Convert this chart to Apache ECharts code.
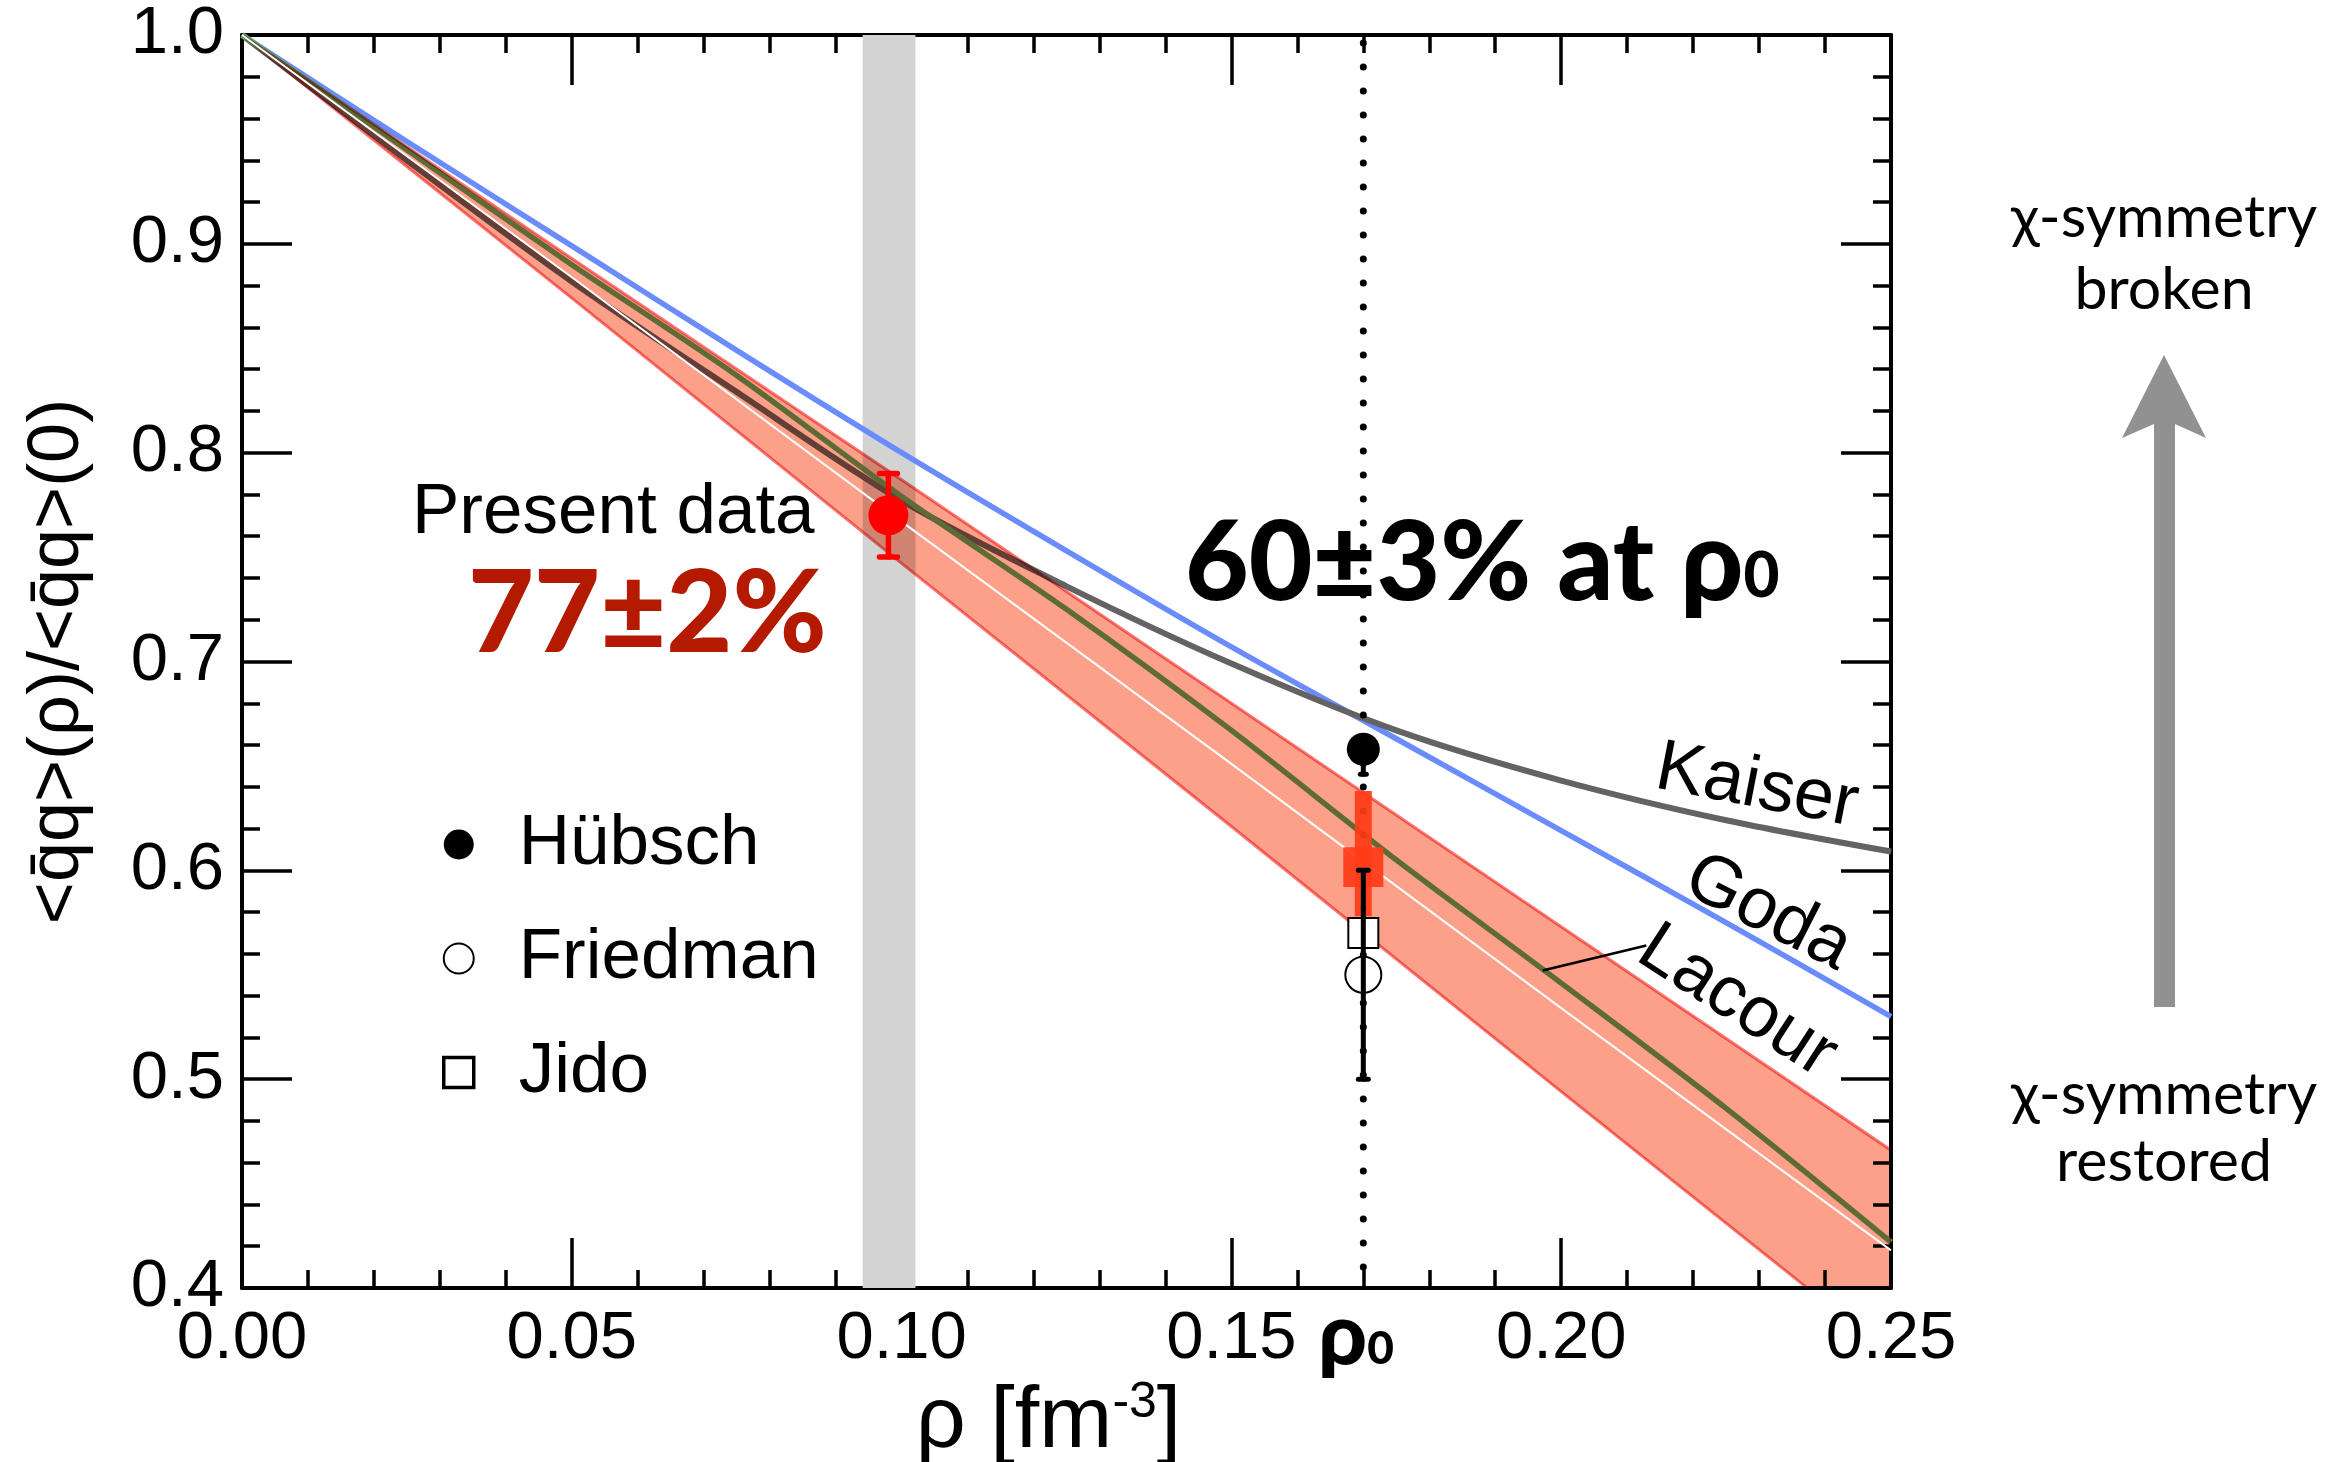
<!DOCTYPE html>
<html>
<head>
    <meta charset="UTF-8"/>
    <title>quark condensate vs density</title>
    <script src="https://cdn.jsdelivr.net/npm/echarts@6/dist/echarts.min.js"></script>
    <style>
        html, body { margin: 0; padding: 0; background: #fff; }
        #main { width: 2351px; height: 1462px; }
    </style>
</head>
<body>
<div id="main"></div>
<script>
    // axes
    var xRange = [0, 0.25];
    var yRange = [0.4, 1.0];

    // model curves, rho in fm^-3
    var rhoGrid = [0, 0.025, 0.05, 0.075, 0.10, 0.125, 0.15, 0.175, 0.20, 0.225, 0.25];
    var goda    = [1.000, 0.949, 0.899, 0.849, 0.800, 0.753, 0.707, 0.663, 0.619, 0.575, 0.530];
    var kaiser  = [1.000, 0.940, 0.882, 0.829, 0.777, 0.736, 0.699, 0.667, 0.643, 0.624, 0.609];
    var lacour  = [1.000, 0.945, 0.890, 0.837, 0.779, 0.725, 0.667, 0.605, 0.546, 0.486, 0.422];

    // linear band of the present result
    var bandRho  = [0, 0.05, 0.10, 0.15, 0.20, 0.25];
    var bandHigh = [1.000, 0.893, 0.787, 0.680, 0.573, 0.466];
    var bandLow  = [1.000, 0.874, 0.747, 0.621, 0.494, 0.368];
    var bandMid  = [1.000, 0.884, 0.767, 0.651, 0.534, 0.418];

    // data points
    var rho0 = 0.17;
    var exclRange = [0.0941, 0.1021];
    var present = [0.098, 0.770, 0.750, 0.790];      // rho, value, low, high
    var hubsch = [0.17, 0.658, 0.646, 0.658];
    var friedman = [0.17, 0.550, 0.500, 0.600];
    var jido = [0.17, 0.570];
    var extrap = [0.17, 0.578, 0.638, 0.592, 0.611];  // rho, stat low/high, syst low/high
    var leaderRho = [0.1972, 0.2129];
    var leaderVal = [0.552, 0.564];

    var sans = '"Liberation Sans", Arial, sans-serif';
    var gill = 'Lato, "Open Sans", sans-serif';

    function pairs(xs, ys) {
        return xs.map(function (x, i) { return [x, ys[i]]; });
    }

    function errorBar(name, row, color, width, capHalf, z) {
        return {
            type: 'custom', name: name, z: z, clip: true, silent: true,
            data: [[row[0], row[2], row[3]]],
            renderItem: function (params, api) {
                var x = api.value(0);
                var lo = api.coord([x, api.value(1)]);
                var hi = api.coord([x, api.value(2)]);
                var st = { stroke: color, lineWidth: width, lineCap: 'round' };
                return {
                    type: 'group', children: [
                        { type: 'line', shape: { x1: lo[0], y1: lo[1], x2: hi[0], y2: hi[1] }, style: st },
                        { type: 'line', shape: { x1: lo[0] - capHalf, y1: lo[1], x2: lo[0] + capHalf, y2: lo[1] }, style: st },
                        { type: 'line', shape: { x1: hi[0] - capHalf, y1: hi[1], x2: hi[0] + capHalf, y2: hi[1] }, style: st }
                    ]
                };
            }
        };
    }

    function valueAxis(pos, range, step, digits, showLabel, extra) {
        var ax = {
            type: 'value', position: pos, min: range[0], max: range[1], interval: step,
            axisLine: { show: true, onZero: false, lineStyle: { color: '#000', width: 4 } },
            axisTick: { show: true, inside: true, length: 50, lineStyle: { color: '#000', width: 3.5 } },
            minorTick: { show: true, splitNumber: 5, length: 18, lineStyle: { color: '#000', width: 3.5 } },
            splitLine: { show: false },
            minorSplitLine: { show: false },
            axisLabel: {
                show: showLabel, color: '#000', fontSize: 67, fontFamily: sans, margin: 18,
                formatter: function (v) { return v.toFixed(digits); }
            }
        };
        for (var k in extra) ax[k] = extra[k];
        return ax;
    }

    var chart = echarts.init(document.getElementById('main'));

    var option = {
        animation: false,
        backgroundColor: '#fff',
        grid: { left: 242, right: 460, top: 35, bottom: 174, containLabel: false, outerBoundsMode: 'none' },
        xAxis: [
            valueAxis('bottom', xRange, 0.05, 2, true, {
                name: '{a|ρ [fm}{s|-3}{a|]}', nameLocation: 'middle', nameGap: 78,
                nameTextStyle: {
                    padding: [0, 36, 0, 0],
                    rich: {
                        a: { fontSize: 88, fontFamily: sans, color: '#000' },
                        s: { fontSize: 50, fontFamily: sans, color: '#000', padding: [0, 0, 40, 0] }
                    }
                }
            }),
            valueAxis('top', xRange, 0.05, 2, false, {})
        ],
        yAxis: [
            valueAxis('left', yRange, 0.1, 1, true, {
                name: '<q\u0304q>(ρ)/<q\u0304q>(0)', nameLocation: 'middle', nameRotate: 90, nameGap: 148,
                nameTextStyle: { fontSize: 72, fontFamily: sans, color: '#000' }
            }),
            valueAxis('right', yRange, 0.1, 1, false, {})
        ],
        legend: {
            show: true, orient: 'vertical', left: 442, top: 809, padding: 0, selectedMode: false,
            itemWidth: 110, itemHeight: 30, itemGap: 43,
            textStyle: { fontSize: 71, lineHeight: 71, fontFamily: sans, color: '#000' },
            data: [
                { name: 'Hübsch', icon: 'circle' },
                { name: 'Friedman', icon: 'emptyCircle' },
                { name: 'Jido', icon: 'path://M0,0H10V10H0Z',
                  itemStyle: { color: '#fff', borderColor: '#000', borderWidth: 3.5 } }
            ]
        },
        series: [
            {   // grey window of the present measurement
                type: 'custom', name: 'window', z: 1, silent: true, clip: true,
                data: [[exclRange[0], exclRange[1]]],
                renderItem: function (params, api) {
                    var cs = params.coordSys;
                    var a = api.coord([api.value(0), yRange[1]]);
                    var b = api.coord([api.value(1), yRange[1]]);
                    return { type: 'rect', shape: { x: a[0], y: cs.y, width: b[0] - a[0], height: cs.height }, style: { fill: '#d3d3d3' } };
                }
            },
            { type: 'line', name: 'Goda', data: pairs(rhoGrid, goda), symbol: 'none', smooth: 0.3, z: 2,
              lineStyle: { color: '#6a8cff', width: 5.5 } },
            { type: 'line', name: 'Kaiser', data: pairs(rhoGrid, kaiser), symbol: 'none', smooth: 0.3, z: 2,
              lineStyle: { color: '#636363', width: 6 } },
            { type: 'line', name: 'Lacour', data: pairs(rhoGrid, lacour), symbol: 'none', smooth: 0.3, z: 2,
              lineStyle: { color: '#60aa62', width: 5.5 } },
            {   // salmon band, multiplied over the curves
                type: 'custom', name: 'band', z: 3, silent: true, clip: true, blendMode: 'multiply',
                data: [[bandRho[0], bandHigh[0]]],
                renderItem: function (params, api) {
                    var pts = [];
                    for (var i = 0; i < bandRho.length; i++) pts.push(api.coord([bandRho[i], bandHigh[i]]));
                    for (var j = bandRho.length - 1; j >= 0; j--) pts.push(api.coord([bandRho[j], bandLow[j]]));
                    return { type: 'polygon', shape: { points: pts }, style: { fill: '#fca08a', stroke: '#f87a7a', lineWidth: 3 } };
                }
            },
            { type: 'line', name: 'bandMid', data: pairs(bandRho, bandMid), symbol: 'none', z: 4, silent: true,
              lineStyle: { color: '#fff', width: 2 } },
            { type: 'line', name: 'leader', data: pairs(leaderRho, leaderVal), symbol: 'none', z: 5, silent: true,
              lineStyle: { color: '#000', width: 2.5 } },
            {   // saturation density
                type: 'custom', name: 'rho0', z: 5, silent: true, clip: true,
                data: [[rho0, yRange[1]]],
                renderItem: function (params, api) {
                    var cs = params.coordSys;
                    var p = api.coord([api.value(0), yRange[1]]);
                    return { type: 'line', shape: { x1: p[0], y1: cs.y + 8, x2: p[0], y2: cs.y + cs.height },
                             style: { stroke: '#000', lineWidth: 7, lineCap: 'round', lineDash: [0, 24] } };
                }
            },
            {   // extrapolation to rho0
                type: 'custom', name: 'extrap', z: 6, silent: true, clip: true,
                data: [extrap],
                renderItem: function (params, api) {
                    var x = api.value(0);
                    var s1 = api.coord([x, api.value(2)]), s0 = api.coord([x, api.value(1)]);
                    var y1 = api.coord([x, api.value(4)]), y0 = api.coord([x, api.value(3)]);
                    var st = { fill: '#ff3c18', opacity: 0.93 };
                    return {
                        type: 'group', children: [
                            { type: 'rect', shape: { x: s1[0] - 8.5, y: s1[1], width: 17, height: s0[1] - s1[1] }, style: st },
                            { type: 'rect', shape: { x: y1[0] - 20, y: y1[1], width: 40, height: y0[1] - y1[1] }, style: st }
                        ]
                    };
                }
            },
            { type: 'scatter', name: 'Jido', data: [jido], symbol: 'emptyRect', symbolSize: 30, z: 7,
              itemStyle: { color: '#000', borderWidth: 3.5, opacity: 1 } },
            { type: 'scatter', name: 'Friedman', data: [[friedman[0], friedman[1]]], symbol: 'emptyCircle', symbolSize: 36, z: 7,
              itemStyle: { color: '#000', borderWidth: 3.5, opacity: 1 } },
            errorBar('friedmanErr', friedman, '#000', 5, 5, 8),
            errorBar('hubschErr', hubsch, '#000', 5, 3, 7),
            { type: 'scatter', name: 'Hübsch', data: [[hubsch[0], hubsch[1]]], symbol: 'circle', symbolSize: 33, z: 8,
              itemStyle: { color: '#000', opacity: 1 } },
            errorBar('presentErr', present, '#ff0000', 5.5, 9, 9),
            { type: 'scatter', name: 'Present', data: [[present[0], present[1]]], symbol: 'circle', symbolSize: 40, z: 10,
              itemStyle: { color: '#ff0000', opacity: 1 } }
        ],
        graphic: [
            { type: 'text', x: 412, y: 513, z: 20,
              style: { text: 'Present data', font: '71px ' + sans, fill: '#000', align: 'left', verticalAlign: 'middle' } },
            { type: 'text', x: 468, y: 615, z: 20,
              style: { text: '77±2%', font: '900 114px ' + gill, fill: '#b31a00', align: 'left', verticalAlign: 'middle' } },
            { type: 'text', x: 1185, y: 565, z: 20,
              style: {
                  text: '{m|60±3% at ρ}{s|0}', align: 'left', verticalAlign: 'middle',
                  rich: {
                      m: { font: '900 110px ' + gill, fill: '#000' },
                      s: { font: '900 62px ' + gill, fill: '#000', padding: [24, 0, 0, 0] }
                  }
              } },
            { type: 'text', x: 1318, y: 1336, z: 20,
              style: {
                  text: '{m|ρ}{s|0}', align: 'left', verticalAlign: 'middle',
                  rich: {
                      m: { font: '900 86px ' + gill, fill: '#000' },
                      s: { font: '900 46px ' + gill, fill: '#000', padding: [26, 0, 0, 0] }
                  }
              } },
            { type: 'text', x: 1757, y: 787, z: 20, rotation: -11 * Math.PI / 180,
              style: { text: 'Kaiser', font: '72px ' + sans, fill: '#000', align: 'center', verticalAlign: 'middle' } },
            { type: 'text', x: 1768, y: 913, z: 20, rotation: -27 * Math.PI / 180,
              style: { text: 'Goda', font: '72px ' + sans, fill: '#000', align: 'center', verticalAlign: 'middle' } },
            { type: 'text', x: 1737, y: 1002, z: 20, rotation: -33 * Math.PI / 180,
              style: { text: 'Lacour', font: '72px ' + sans, fill: '#000', align: 'center', verticalAlign: 'middle' } },
            { type: 'text', x: 2164, y: 218, z: 20,
              style: { text: 'χ-symmetry', font: '59px ' + gill, fill: '#000', align: 'center', verticalAlign: 'middle' } },
            { type: 'text', x: 2164, y: 290, z: 20,
              style: { text: 'broken', font: '59px ' + gill, fill: '#000', align: 'center', verticalAlign: 'middle' } },
            { type: 'text', x: 2164, y: 1095, z: 20,
              style: { text: 'χ-symmetry', font: '59px ' + gill, fill: '#000', align: 'center', verticalAlign: 'middle' } },
            { type: 'text', x: 2164, y: 1162, z: 20,
              style: { text: 'restored', font: '59px ' + gill, fill: '#000', align: 'center', verticalAlign: 'middle' } },
            { type: 'polygon', z: 20,
              shape: { points: [[2164, 355], [2206, 438], [2175, 424], [2175, 1007], [2154, 1007], [2154, 424], [2122, 438]] },
              style: { fill: '#919191' } }
        ]
    };

    chart.setOption(option);
</script>
</body>
</html>
